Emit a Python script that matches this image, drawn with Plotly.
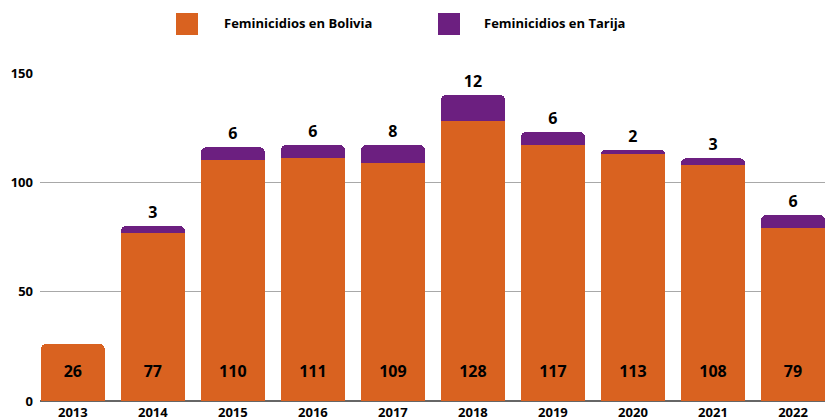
import plotly.graph_objects as go

years = ["2013", "2014", "2015", "2016", "2017", "2018", "2019", "2020", "2021", "2022"]
bolivia = [26, 77, 110, 111, 109, 128, 117, 113, 108, 79]
tarija = [0, 3, 6, 6, 8, 12, 6, 2, 3, 6]
y_ticks = [0, 50, 100, 150]

ORANGE = "#D96220"
PURPLE = "#6C1F80"
FONT = "Open Sans"

xs = list(range(len(years)))
tarija_plot = [v if v > 0 else None for v in tarija]
tarija_text = [str(v) if v > 0 else "" for v in tarija]

fig = go.Figure()
fig.add_trace(go.Bar(
    x=xs, y=bolivia, name="Feminicidios en Bolivia",
    marker=dict(color=ORANGE, line=dict(width=0)),
    width=0.8, showlegend=False, hoverinfo="y",
))
fig.add_trace(go.Bar(
    x=xs, y=tarija_plot, name="Feminicidios en Tarija",
    marker=dict(color=PURPLE, line=dict(width=0)),
    width=0.8, showlegend=False,
    text=tarija_text, textposition="outside", cliponaxis=False,
    textfont=dict(family=FONT, size=16, color="#000000", weight="bold"),
    hoverinfo="y",
))
# Value labels for Bolivia, placed at a common height near the base
fig.add_trace(go.Scatter(
    x=xs, y=[13] * len(xs), mode="text", text=[str(v) for v in bolivia],
    textfont=dict(family=FONT, size=16, color="#000000", weight="bold"),
    showlegend=False, hoverinfo="skip", cliponaxis=False,
))

# Custom legend
legend_items = [("Feminicidios en Bolivia", ORANGE, 176, 222), ("Feminicidios en Tarija", PURPLE, 438, 482)]
shapes = []
annotations = []
W, H = 825, 420
for label, col, sx, tx in legend_items:
    shapes.append(dict(type="rect", xref="paper", yref="paper",
                       x0=(sx - 40) / 785, x1=(sx + 22 - 40) / 785,
                       y0=(401 - 35) / 328, y1=(401 - 13) / 328,
                       fillcolor=col, line=dict(width=0)))
    annotations.append(dict(xref="paper", yref="paper", x=(tx - 40) / 785, y=(401 - 23) / 328,
                            text=label, showarrow=False, xanchor="left", yanchor="middle",
                            font=dict(family=FONT, size=13, color="#000000", weight="bold")))

fig.update_layout(
    width=W, height=H,
    barmode="stack", bargap=0.2,
    barcornerradius=5,
    plot_bgcolor="white", paper_bgcolor="white",
    margin=dict(l=40, r=0, t=73, b=19, autoexpand=False),
    shapes=shapes, annotations=annotations,
    font=dict(family=FONT, color="#000000"),
)
fig.update_xaxes(
    range=[-0.41, 9.4], tickmode="array", tickvals=xs, ticktext=years,
    showgrid=False, zeroline=False, showline=False, ticks="",
    tickfont=dict(family=FONT, size=13, color="#000000", weight="bold"),
    automargin=False, ticklabelstandoff=2,
)
fig.update_yaxes(
    range=[0, 150], tickvals=y_ticks, showgrid=True, gridcolor="#A8A8A8", gridwidth=1,
    zeroline=True, zerolinecolor="#666666", zerolinewidth=2,
    tickfont=dict(family=FONT, size=13, color="#000000", weight="bold"),
    ticks="", ticklabelstandoff=6, automargin=False,
)

fig.write_html("out.html", config={"displayModeBar": False},
               post_script="document.body.style.margin='0';document.body.style.padding='0';")
